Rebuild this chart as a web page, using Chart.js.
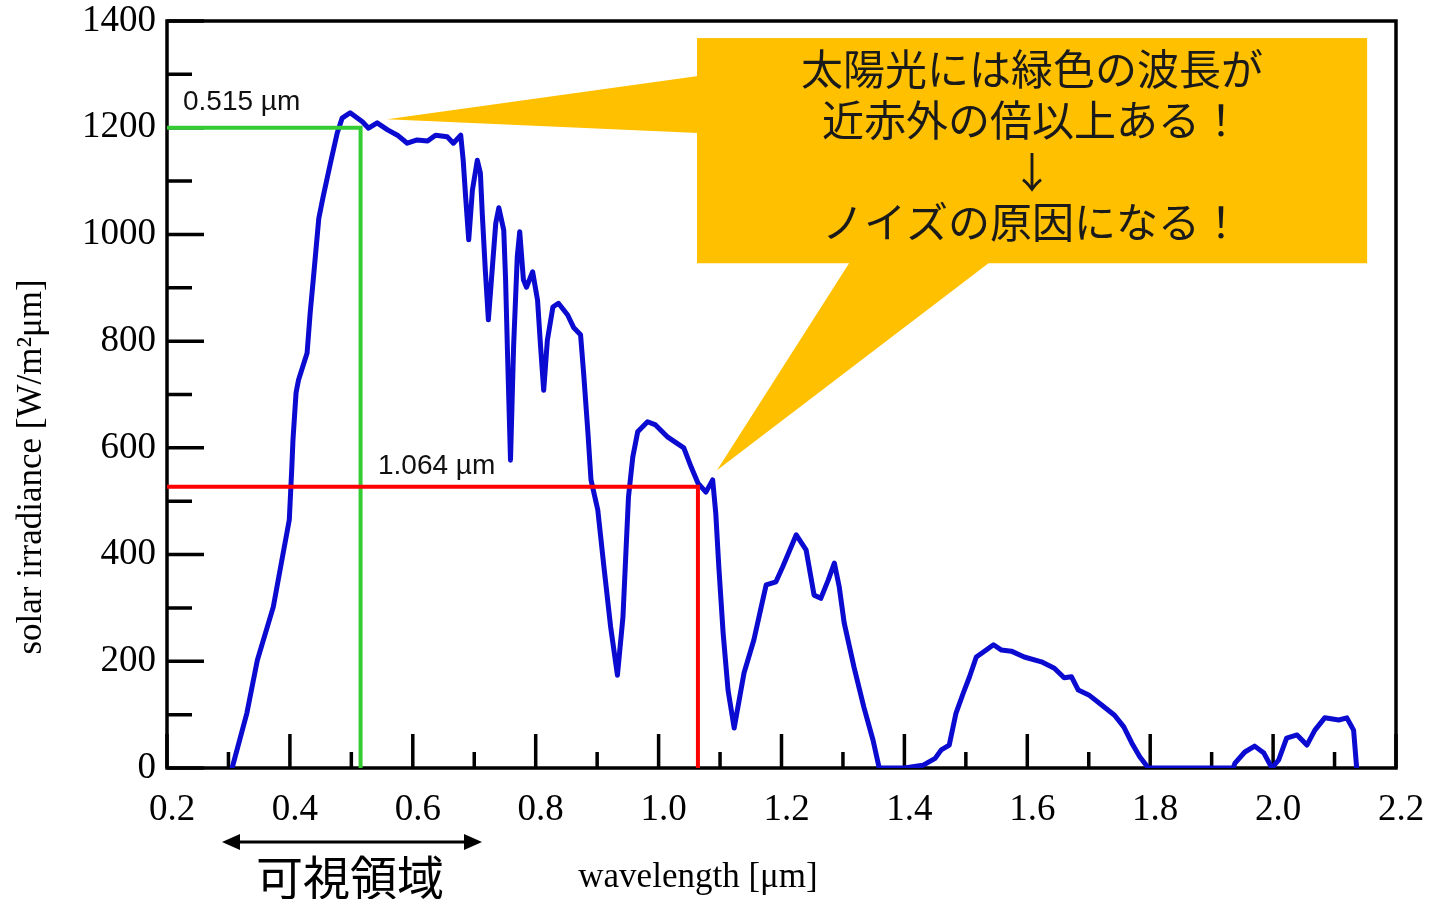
<!DOCTYPE html>
<html>
<head>
<meta charset="utf-8">
<script src="https://cdn.jsdelivr.net/npm/chart.js@4.4.0/dist/chart.umd.min.js"></script>
<style>
  html, body { margin: 0; padding: 0; background: #fff; }
  #wrap { width: 1429px; height: 899px; position: relative; }
</style>
</head>
<body>
<div id="wrap"><canvas id="c" width="1429" height="899"></canvas></div>
<script>
// Solar spectral irradiance at sea level (wavelength in µm, irradiance in W/m²µm)
const wavelength = [
  0.306, 0.330, 0.347, 0.373, 0.387, 0.399, 0.403, 0.405, 0.410, 0.414,
  0.428, 0.433, 0.438, 0.447, 0.454, 0.466, 0.477, 0.485, 0.498, 0.518,
  0.528, 0.542, 0.559, 0.575, 0.591, 0.607, 0.624, 0.637, 0.656, 0.666,
  0.678, 0.682, 0.686, 0.691, 0.697, 0.705, 0.710, 0.713, 0.718, 0.723,
  0.730, 0.735, 0.740, 0.748, 0.751, 0.754, 0.759, 0.764, 0.770, 0.774,
  0.780, 0.785, 0.795, 0.803, 0.808, 0.813, 0.819, 0.828, 0.837, 0.852,
  0.862, 0.873, 0.878, 0.885, 0.890, 0.901, 0.911, 0.922, 0.933, 0.942,
  0.947, 0.951, 0.958, 0.966, 0.982, 0.995, 1.015, 1.041, 1.053, 1.064,
  1.077, 1.088, 1.093, 1.098, 1.105, 1.113, 1.123, 1.139, 1.155, 1.167,
  1.175, 1.191, 1.202, 1.224, 1.240, 1.253, 1.264, 1.276, 1.286, 1.294,
  1.302, 1.318, 1.334, 1.349, 1.359, 1.400, 1.430, 1.450, 1.460, 1.473,
  1.484, 1.496, 1.506, 1.517, 1.528, 1.545, 1.558, 1.574, 1.595, 1.623,
  1.644, 1.660, 1.672, 1.683, 1.700, 1.721, 1.742, 1.757, 1.770, 1.783,
  1.797, 1.935, 1.938, 1.954, 1.970, 1.985, 1.998, 2.009, 2.022, 2.039,
  2.055, 2.068, 2.084, 2.107, 2.120, 2.131, 2.136
];
const irradiance = [
  0, 103, 202, 302, 390, 465, 560, 615, 703, 727,
  778, 853, 915, 1030, 1070, 1134, 1190, 1218, 1228, 1211,
  1199, 1209, 1196, 1186, 1171, 1177, 1175, 1186, 1183, 1171,
  1186, 1139, 1070, 990, 1083, 1139, 1115, 1040, 933, 840,
  946, 1021, 1050, 1008, 915, 783, 577, 789, 958, 1005,
  915, 901, 930, 877, 789, 708, 802, 864, 871, 849,
  825, 812, 740, 628, 540, 484, 377, 264, 174, 283,
  409, 508, 583, 630, 649, 643, 620, 600, 564, 534,
  517, 540, 478, 377, 253, 146, 75, 178, 240, 302,
  343, 349, 377, 437, 409, 324, 318, 352, 384, 339,
  272, 189, 114, 52, 0, 0, 5, 18, 34, 43,
  103, 141, 171, 208, 217, 231, 221, 219, 208, 199,
  187, 169, 171, 146, 137, 118, 99, 77, 47, 21,
  0, 0, 9, 30, 41, 28, 0, 15, 56, 62,
  43, 71, 94, 90, 94, 71, 0
];

// Axis ticks
const xMajorTicks = [0.2, 0.4, 0.6, 0.8, 1.0, 1.2, 1.4, 1.6, 1.8, 2.0, 2.2];
const xTickLabels = ['0.2', '0.4', '0.6', '0.8', '1.0', '1.2', '1.4', '1.6', '1.8', '2.0', '2.2'];
const xMinorTicks = [0.3, 0.5, 0.7, 0.9, 1.1, 1.3, 1.5, 1.7, 1.9, 2.1];
const yMajorTicks = [0, 200, 400, 600, 800, 1000, 1200, 1400];
const yTickLabels = ['0', '200', '400', '600', '800', '1000', '1200', '1400'];
const yMinorTicks = [100, 300, 500, 700, 900, 1100, 1300];

// Marked wavelengths: green laser line and Nd:YAG line
const greenMark = { x: 0.515, y: 1200, label: '0.515 µm' };
const nirMark = { x: 1.064, y: 527, label: '1.064 µm' };

// Callout box and its two pointers (data units)
const calloutBox = { x0: 1.0625, x1: 2.153, yTop: 1368, yBottom: 946 };
const pointerUpper = { tipX: 0.558, tipY: 1216, baseY0: 1297, baseY1: 1190 };
const pointerLower = { tipX: 1.095, tipY: 558, baseX0: 1.311, baseX1: 1.539 };
const calloutLines = ['太陽光には緑色の波長が', '近赤外の倍以上ある！', '↓', 'ノイズの原因になる！'];

// Visible band arrow
const visibleBand = { x0: 0.2895, x1: 0.7126, label: '可視領域' };

const SERIF = '"Liberation Serif", "DejaVu Serif", serif';
const SANS = '"Liberation Sans", Arial, sans-serif';
const CJK = '"Noto Sans CJK JP", "Noto Sans CJK SC", sans-serif';

const decor = {
  id: 'decor',
  beforeDatasetsDraw(chart) {
    const { ctx, chartArea: a, scales: { x, y } } = chart;
    ctx.save();
    ctx.strokeStyle = '#000';
    ctx.lineWidth = 3.5;
    ctx.lineCap = 'butt';
    ctx.beginPath();
    xMajorTicks.forEach(v => { const p = x.getPixelForValue(v); ctx.moveTo(p, a.bottom); ctx.lineTo(p, a.bottom - 34); });
    xMinorTicks.forEach(v => { const p = x.getPixelForValue(v); ctx.moveTo(p, a.bottom); ctx.lineTo(p, a.bottom - 16); });
    yMajorTicks.forEach(v => { const p = y.getPixelForValue(v); ctx.moveTo(a.left, p); ctx.lineTo(a.left + 37, p); });
    yMinorTicks.forEach(v => { const p = y.getPixelForValue(v); ctx.moveTo(a.left, p); ctx.lineTo(a.left + 25, p); });
    ctx.stroke();
    // plot frame
    ctx.lineWidth = 3.5;
    ctx.strokeRect(a.left, a.top, a.right - a.left, a.bottom - a.top);
    ctx.restore();
  },
  afterDatasetsDraw(chart) {
    const { ctx, chartArea: a, scales: { x, y } } = chart;
    ctx.save();

    // green guide
    const gx = x.getPixelForValue(greenMark.x), gy = y.getPixelForValue(greenMark.y);
    ctx.strokeStyle = '#33cc33';
    ctx.lineWidth = 4;
    ctx.beginPath();
    ctx.moveTo(a.left, gy); ctx.lineTo(gx, gy); ctx.lineTo(gx, a.bottom);
    ctx.stroke();

    // red guide
    const rx = x.getPixelForValue(nirMark.x), ry = y.getPixelForValue(nirMark.y);
    ctx.strokeStyle = '#ff0000';
    ctx.lineWidth = 4;
    ctx.beginPath();
    ctx.moveTo(a.left, ry); ctx.lineTo(rx, ry); ctx.lineTo(rx, a.bottom);
    ctx.stroke();

    // guide labels
    ctx.fillStyle = '#111';
    ctx.font = '28px ' + SANS;
    ctx.textAlign = 'left';
    ctx.textBaseline = 'middle';
    ctx.fillText(greenMark.label, a.left + 16, gy - 25);
    ctx.fillText(nirMark.label, 378, ry - 21);

    // callout
    const bx0 = x.getPixelForValue(calloutBox.x0), bx1 = x.getPixelForValue(calloutBox.x1);
    const by0 = y.getPixelForValue(calloutBox.yTop), by1 = y.getPixelForValue(calloutBox.yBottom);
    ctx.fillStyle = '#ffc000';
    ctx.fillRect(bx0, by0, bx1 - bx0, by1 - by0);
    ctx.beginPath();
    ctx.moveTo(bx0 + 1, y.getPixelForValue(pointerUpper.baseY0));
    ctx.lineTo(x.getPixelForValue(pointerUpper.tipX), y.getPixelForValue(pointerUpper.tipY));
    ctx.lineTo(bx0 + 1, y.getPixelForValue(pointerUpper.baseY1));
    ctx.closePath();
    ctx.fill();
    ctx.beginPath();
    ctx.moveTo(x.getPixelForValue(pointerLower.baseX0), by1 - 1);
    ctx.lineTo(x.getPixelForValue(pointerLower.tipX), y.getPixelForValue(pointerLower.tipY));
    ctx.lineTo(x.getPixelForValue(pointerLower.baseX1), by1 - 1);
    ctx.closePath();
    ctx.fill();

    ctx.fillStyle = '#1a1a1a';
    ctx.font = '42px ' + CJK;
    ctx.textAlign = 'center';
    ctx.textBaseline = 'middle';
    const cx = (bx0 + bx1) / 2;
    const offs = [31, 82, 134, 184];
    calloutLines.forEach((t, i) => ctx.fillText(t, cx, by0 + offs[i]));

    // visible band arrow
    const vx0 = x.getPixelForValue(visibleBand.x0), vx1 = x.getPixelForValue(visibleBand.x1);
    const vy = 842;
    ctx.strokeStyle = '#000';
    ctx.fillStyle = '#000';
    ctx.lineWidth = 3;
    ctx.beginPath();
    ctx.moveTo(vx0 + 10, vy); ctx.lineTo(vx1 - 10, vy);
    ctx.stroke();
    ctx.beginPath();
    ctx.moveTo(vx0, vy); ctx.lineTo(vx0 + 18, vy - 8); ctx.lineTo(vx0 + 18, vy + 8); ctx.closePath();
    ctx.fill();
    ctx.beginPath();
    ctx.moveTo(vx1, vy); ctx.lineTo(vx1 - 18, vy - 8); ctx.lineTo(vx1 - 18, vy + 8); ctx.closePath();
    ctx.fill();
    ctx.font = '47px ' + CJK;
    ctx.textAlign = 'center';
    ctx.textBaseline = 'middle';
    ctx.fillText(visibleBand.label, (vx0 + vx1) / 2 - 2, 877);

    // axis titles
    ctx.font = '35px ' + SERIF;
    ctx.fillStyle = '#000';
    ctx.textAlign = 'center';
    ctx.textBaseline = 'middle';
    ctx.fillText('wavelength [μm]', 698, 878);
    ctx.translate(32, 467);
    ctx.rotate(-Math.PI / 2);
    ctx.fillText('solar irradiance [W/m²μm]', 0, 0);

    ctx.restore();
  }
};

function build() {
  const points = wavelength.map((w, i) => ({ x: w, y: irradiance[i] }));
  new Chart(document.getElementById('c'), {
    type: 'line',
    data: {
      datasets: [{
        data: points,
        borderColor: '#0a0ad0',
        borderWidth: 5,
        pointRadius: 0,
        tension: 0,
        borderJoinStyle: 'round',
        borderCapStyle: 'round',
        fill: false
      }]
    },
    options: {
      responsive: false,
      animation: false,
      events: [],
      layout: { padding: { left: 0, top: 21, right: 33, bottom: 0 } },
      plugins: { legend: { display: false }, tooltip: { enabled: false } },
      scales: {
        x: {
          type: 'linear',
          min: 0.2, max: 2.2,
          afterBuildTicks: s => { s.ticks = xMajorTicks.map(v => ({ value: v })); },
          afterFit: s => { s.height = 131; s.paddingLeft = 0; s.paddingRight = 0; },
          grid: { display: false },
          border: { display: false },
          ticks: {
            callback: (v, i) => xTickLabels[i],
            font: { family: SERIF, size: 37 },
            color: '#000',
            padding: 12,
            labelOffset: 5,
            maxRotation: 0,
            autoSkip: false
          }
        },
        y: {
          min: 0, max: 1400,
          afterBuildTicks: s => { s.ticks = yMajorTicks.map(v => ({ value: v })); },
          afterFit: s => { s.width = 167; s.paddingTop = 0; s.paddingBottom = 0; },
          grid: { display: false },
          border: { display: false },
          ticks: {
            callback: (v, i) => yTickLabels[i],
            font: { family: SERIF, size: 37 },
            color: '#000',
            padding: 3,
            autoSkip: false
          }
        }
      }
    },
    plugins: [decor]
  });
}

const fontLoads = [
  '36px "Liberation Serif"', '28px "Liberation Sans"', '42px "Noto Sans CJK JP"'
].map(f => document.fonts.load(f).catch(() => null));
Promise.all(fontLoads).then(build, build);
</script>
</body>
</html>
